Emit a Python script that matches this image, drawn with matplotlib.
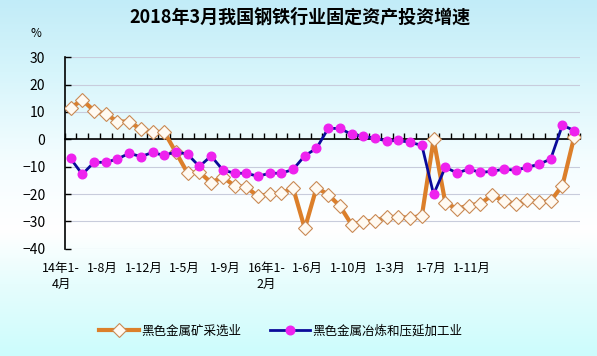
import numpy as np
import matplotlib.pyplot as plt
from matplotlib.colors import LinearSegmentedColormap
from matplotlib.transforms import blended_transform_factory

plt.rcParams['font.family'] = ['Noto Sans CJK SC', 'DejaVu Sans']

# 2014年1-4月 ... 2018年1-3月 (cumulative, %)
mining = [11.5, 14.4, 10.5, 9.3, 6.5, 6.5, 3.7, 2.7, 2.7, -4.8,
          -12.4, -12.0, -15.8, -13.8, -17.0, -17.5, -20.8, -20.0, -19.8, -17.8,
          -32.6, -17.7, -20.2, -24.4, -31.2, -30.2, -29.7, -28.5, -28.3, -28.8,
          -27.9, 0.0, -23.2, -25.4, -24.2, -23.5, -20.4, -22.5, -23.7, -22.2,
          -23.1, -22.5, -16.9, 0.8]
smelting = [-7.0, -12.8, -8.4, -8.4, -7.2, -5.1, -6.3, -4.8, -5.9, -4.5,
            -5.5, -9.9, -6.1, -11.2, -12.4, -12.4, -13.5, -12.4, -12.4, -11.0,
            -6.0, -3.3, 4.0, 4.0, 1.8, 1.1, 0.4, -0.6, -0.4, -1.1,
            -2.2, -20.1, -10.2, -12.3, -10.9, -12.1, -11.7, -10.9, -11.3, -10.2,
            -9.1, -7.2, 5.2, 3.2]
xlabels = ['14年1-\n4月', '1-8月', '1-12月', '1-5月', '1-9月', '16年1-\n2月',
           '1-6月', '1-10月', '1-3月', '1-7月', '1-11月']
names = ['黑色金属矿采选业', '黑色金属冶炼和压延加工业']

x = np.arange(len(mining))

fig = plt.figure(figsize=(5.97, 3.56), dpi=100)

# background gradient
bg = fig.add_axes([0, 0, 1, 1], zorder=-10)
cmap = LinearSegmentedColormap.from_list('bg', [
    (0.0, '#ccfcfc'), (0.2, '#e6fdfd'), (0.35, '#ffffff'),
    (0.55, '#f4fdff'), (0.8, '#d6f5fb'), (1.0, '#c2ecf8')])
bg.imshow(np.linspace(0, 1, 256).reshape(-1, 1), aspect='auto', cmap=cmap,
          origin='lower', extent=[0, 1, 0, 1])
bg.axis('off')

ax = fig.add_axes([0.1084, 0.3014, 0.8631, 0.5376])
ax.set_facecolor('none')

ax.plot(x, mining, color='#dc7f2a', lw=3, marker='D', markersize=7,
        markerfacecolor='#fffaf2', markeredgecolor='#c98a55', markeredgewidth=0.8,
        label=names[0], zorder=3)
ax.plot(x, smelting, color='#0a0a9a', lw=2, marker='o', markersize=6.2,
        markerfacecolor='#ee22ee', markeredgecolor='#ee22ee',
        label=names[1], zorder=4)

ax.set_xlim(-0.5, len(mining) - 0.5)
ax.set_ylim(-40, 30)
ax.set_yticks(np.arange(-40, 31, 10))
ax.grid(axis='y', color='#c8ccdc', lw=0.8, zorder=0)
ax.set_axisbelow(True)

for s in ['top', 'right']:
    ax.spines[s].set_visible(False)
ax.spines['bottom'].set_position(('data', 0))
ax.spines['bottom'].set_linewidth(1.2)
ax.spines['left'].set_linewidth(1.2)
ax.set_xticks(np.arange(len(mining) + 1) - 0.5)
ax.set_xticklabels([])
ax.tick_params(axis='x', direction='in', length=4, width=1)
ax.tick_params(axis='y', direction='in', length=4, width=1, pad=14,
               labelsize=10)

# category labels (placed as in the original, squeezed to the left)
trans = blended_transform_factory(ax.transData, ax.transAxes)
for k, lab in enumerate(xlabels):
    ax.text(-0.8 + 3.51 * k, -0.07, lab, transform=trans, ha='center',
            va='top', fontsize=9, linespacing=1.25)

fig.text(0.502, 0.952, '2018年3月我国钢铁行业固定资产投资增速', ha='center',
         va='center', fontsize=13, fontweight='bold')
fig.text(0.06, 0.905, '%', ha='center', va='center', fontsize=8.5)

fig.legend(loc='center', bbox_to_anchor=(0.47, 0.07), ncol=2, frameon=False,
           fontsize=9, handlelength=3.2, handletextpad=0.2, columnspacing=2.3,
           numpoints=1)

fig.savefig('out.png', dpi=100)
